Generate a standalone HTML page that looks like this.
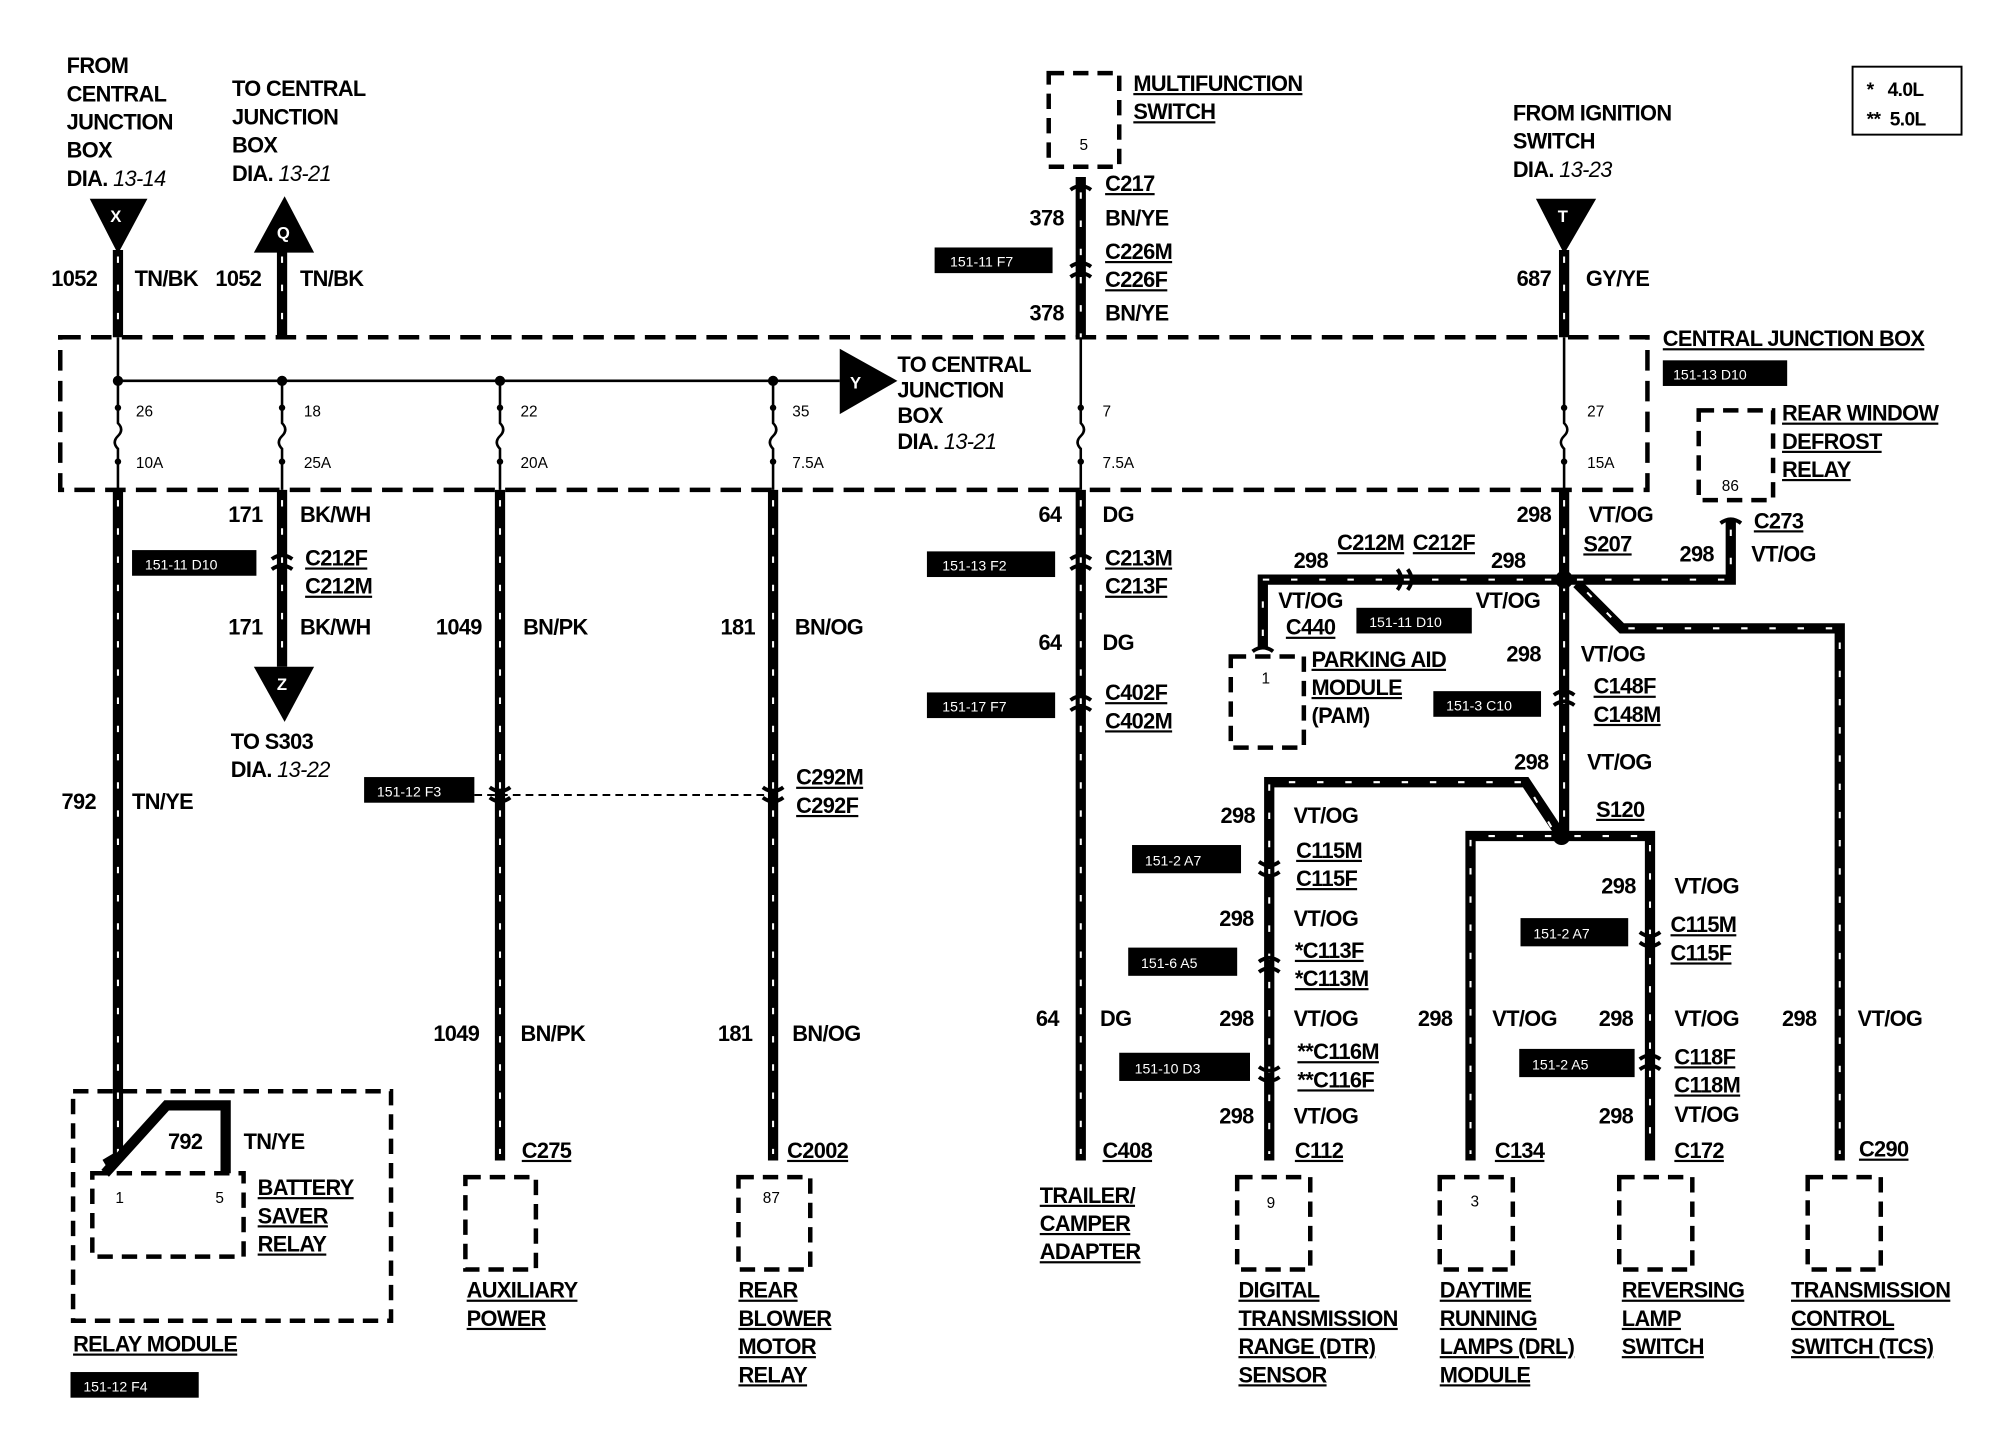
<!DOCTYPE html>
<html><head><meta charset="utf-8"><style>
html,body{margin:0;padding:0;background:#fff;}
svg{display:block;}
text{font-family:"Liberation Sans",Arial,sans-serif;font-weight:bold;font-size:17px;letter-spacing:-0.5px;fill:#000;}
.u{text-decoration:underline;}
.s{font-size:12px;font-weight:normal;letter-spacing:0;}
.t{font-size:11px;font-weight:normal;fill:#fff;letter-spacing:0;}
.i{font-style:italic;font-weight:normal;}
.w{stroke:#000;stroke-width:8;fill:none;stroke-linejoin:miter;}
.st{stroke:#fff;stroke-width:1.6;fill:none;stroke-dasharray:5 17;}
.th{stroke:#000;stroke-width:2;fill:none;}
.db{stroke:#000;stroke-width:3.5;fill:none;stroke-dasharray:16 8;}
</style></head><body>
<svg width="2000" height="1440" viewBox="0 0 1560 1123" preserveAspectRatio="none" xmlns="http://www.w3.org/2000/svg">
<rect width="1560" height="1123" fill="#fff"/>
<rect x="47" y="263" width="1238" height="119" class="db"/>
<line x1="92" y1="297" x2="655" y2="297" class="th"/>
<polygon points="655,272 655,323 700,297" fill="#000"/>
<text x="663" y="303" style="fill:#fff;font-size:13px">Y</text>
<g fill="#000"><circle cx="92" cy="297" r="4"/><circle cx="220" cy="297" r="4"/><circle cx="390" cy="297" r="4"/><circle cx="603" cy="297" r="4"/></g>
<g class="th">
<path d="M92 263V330 q5 5 0 10 q-5 5 0 10 V382"/>
<path d="M220 297V330 q5 5 0 10 q-5 5 0 10 V382"/>
<path d="M390 297V330 q5 5 0 10 q-5 5 0 10 V382"/>
<path d="M603 297V330 q5 5 0 10 q-5 5 0 10 V382"/>
<path d="M843 263V330 q5 5 0 10 q-5 5 0 10 V382"/>
<path d="M1220 263V330 q5 5 0 10 q-5 5 0 10 V382"/>
</g>
<g fill="#000"><circle cx="92" cy="318" r="2.5"/><circle cx="220" cy="318" r="2.5"/><circle cx="390" cy="318" r="2.5"/><circle cx="603" cy="318" r="2.5"/><circle cx="843" cy="318" r="2.5"/><circle cx="1220" cy="318" r="2.5"/>
<circle cx="92" cy="360" r="2.5"/><circle cx="220" cy="360" r="2.5"/><circle cx="390" cy="360" r="2.5"/><circle cx="603" cy="360" r="2.5"/><circle cx="843" cy="360" r="2.5"/><circle cx="1220" cy="360" r="2.5"/></g>
<polygon points="70,155 115,155 92,198" fill="#000"/><text x="86" y="173" style="fill:#fff;font-size:13px">X</text>
<polygon points="198,197 245,197 222,153" fill="#000"/><text x="216" y="186" style="fill:#fff;font-size:13px">Q</text>
<polygon points="198,520 245,520 222,563" fill="#000"/><text x="216" y="538" style="fill:#fff;font-size:13px">Z</text>
<polygon points="1198,155 1245,155 1220,198" fill="#000"/><text x="1215" y="173" style="fill:#fff;font-size:13px">T</text>
<g class="w">
<path d="M92 195V263"/><path d="M220 195V263"/><path d="M843 138V263"/><path d="M1220 195V263"/>
<path d="M92 382V902 L82 908"/>
<path d="M220 382V520"/>
<path d="M390 382V905"/><path d="M603 382V905"/><path d="M843 382V905"/>
<path d="M1220 382V652"/>
<path d="M1220 452H985V505"/>
<path d="M1220 452H1350V405"/>
<path d="M1230 455L1265 490H1435V905"/>
<path d="M1218 652L1190 610H990V905"/>
<path d="M1218 652H1147V905"/>
<path d="M1218 652H1287V905"/>
</g>
<g class="st">
<path d="M92 200V263"/><path d="M220 200V263"/><path d="M843 150V263"/><path d="M1220 200V263"/>
<path d="M92 390V900"/><path d="M220 390V515"/><path d="M390 390V900"/><path d="M603 390V900"/><path d="M843 390V900"/>
<path d="M1220 390V645"/>
<path d="M1210 452H985V500"/><path d="M1230 452H1350V410"/>
<path d="M1238 462L1265 490H1435V900"/>
<path d="M1210 645L1190 610H990V900"/><path d="M1210 652H1147V900"/><path d="M1228 652H1287V900"/>
</g>
<path d="M82 915L130 862H176V915" class="w"/>
<g fill="#000"><circle cx="1220" cy="452" r="7"/><circle cx="1218" cy="652" r="7"/></g>
<g stroke="#000" stroke-width="3" fill="none">
<path d="M835 148q8-6 16 0"/><path d="M835 208q8-6 16 0M835 216q8 -6 16 0"/>
<path d="M212 436q8-6 16 0M212 444q8-6 16 0"/>
<path d="M835 436q8-6 16 0M835 444q8-6 16 0"/>
<path d="M835 546q8-6 16 0M835 554q8-6 16 0"/>
<path d="M382 614q8 6 16 0M382 622q8 6 16 0"/>
<path d="M595 614q8 6 16 0M595 622q8 6 16 0"/>
<path d="M1212 542q8-6 16 0M1212 550q8-6 16 0"/>
<path d="M982 672q8 6 16 0M982 680q8 6 16 0"/>
<path d="M982 750q8-6 16 0M982 758q8-6 16 0"/>
<path d="M982 832q8 6 16 0M982 840q8 6 16 0"/>
<path d="M1279 727q8 6 16 0M1279 735q8 6 16 0"/>
<path d="M1279 826q8-6 16 0M1279 834q8-6 16 0"/>
<path d="M1090 444q6 8 0 16M1098 444q6 8 0 16"/>
<path d="M977 508q8-6 16 0"/><path d="M1342 408q8-6 16 0"/>
</g>
<line x1="370" y1="620" x2="603" y2="620" stroke="#000" stroke-width="1.5" stroke-dasharray="6 4"/>
<g class="db" style="stroke-width:3.5;stroke-dasharray:12 7">
<rect x="818" y="57" width="55" height="73"/>
<rect x="1325" y="320" width="58" height="70"/>
<rect x="960" y="512" width="57" height="71"/>
<rect x="57" y="851" width="248" height="179"/>
<rect x="72" y="915" width="118" height="65"/>
<rect x="363" y="918" width="55" height="72"/>
<rect x="576" y="918" width="56" height="72"/>
<rect x="965" y="918" width="57" height="72"/>
<rect x="1123" y="918" width="57" height="72"/>
<rect x="1263" y="918" width="57" height="72"/>
<rect x="1410" y="918" width="57" height="72"/>
</g>
<rect x="1445" y="52" width="85" height="53" fill="none" stroke="#000" stroke-width="1.5"/>
<text x="1456" y="75" style="font-size:15px">*&#160;&#160;&#160;4.0L</text>
<text x="1456" y="98" style="font-size:15px">**&#160;&#160;5.0L</text>
<g fill="#000">
<rect x="103" y="429" width="97" height="20"/><rect x="729" y="193" width="92" height="20"/><rect x="1297" y="281" width="97" height="20"/>
<rect x="723" y="430" width="100" height="20"/><rect x="1058" y="474" width="90" height="20"/><rect x="723" y="540" width="100" height="20"/>
<rect x="1118" y="539" width="84" height="20"/><rect x="284" y="606" width="86" height="20"/><rect x="883" y="659" width="85" height="22"/>
<rect x="1186" y="716" width="84" height="22"/><rect x="880" y="739" width="85" height="22"/><rect x="873" y="821" width="102" height="22"/>
<rect x="1185" y="818" width="90" height="22"/><rect x="55" y="1070" width="100" height="20"/>
</g>
<text class="t" x="113" y="444">151-11 D10</text><text class="t" x="741" y="208">151-11 F7</text><text class="t" x="1305" y="296">151-13 D10</text>
<text class="t" x="735" y="445">151-13 F2</text><text class="t" x="1068" y="489">151-11 D10</text><text class="t" x="735" y="555">151-17 F7</text>
<text class="t" x="1128" y="554">151-3 C10</text><text class="t" x="294" y="621">151-12 F3</text><text class="t" x="893" y="675">151-2 A7</text>
<text class="t" x="1196" y="732">151-2 A7</text><text class="t" x="890" y="755">151-6 A5</text><text class="t" x="885" y="837">151-10 D3</text>
<text class="t" x="1195" y="834">151-2 A5</text><text class="t" x="65" y="1085">151-12 F4</text>
<text x="52" y="57">FROM</text><text x="52" y="79">CENTRAL</text><text x="52" y="101">JUNCTION</text><text x="52" y="123">BOX</text><text x="52" y="145">DIA. <tspan class="i">13-14</tspan></text>
<text x="181" y="75">TO CENTRAL</text><text x="181" y="97">JUNCTION</text><text x="181" y="119">BOX</text><text x="181" y="141">DIA. <tspan class="i">13-21</tspan></text>
<text x="40" y="223">1052</text><text x="105" y="223">TN/BK</text><text x="168" y="223">1052</text><text x="234" y="223">TN/BK</text>
<text class="s" x="106" y="325">26</text><text class="s" x="106" y="365">10A</text><text class="s" x="237" y="325">18</text><text class="s" x="237" y="365">25A</text>
<text class="s" x="406" y="325">22</text><text class="s" x="406" y="365">20A</text><text class="s" x="618" y="325">35</text><text class="s" x="618" y="365">7.5A</text>
<text class="s" x="860" y="325">7</text><text class="s" x="860" y="365">7.5A</text><text class="s" x="1238" y="325">27</text><text class="s" x="1238" y="365">15A</text>
<text x="178" y="407">171</text><text x="234" y="407">BK/WH</text><text class="u" x="238" y="441">C212F</text><text class="u" x="238" y="463">C212M</text>
<text x="178" y="495">171</text><text x="234" y="495">BK/WH</text>
<text x="180" y="584">TO S303</text><text x="180" y="606">DIA. <tspan class="i">13-22</tspan></text>
<text x="48" y="631">792</text><text x="103" y="631">TN/YE</text>
<text x="340" y="495">1049</text><text x="408" y="495">BN/PK</text><text x="562" y="495">181</text><text x="620" y="495">BN/OG</text>
<text class="u" x="621" y="612">C292M</text><text class="u" x="621" y="634">C292F</text>
<text x="338" y="812">1049</text><text x="406" y="812">BN/PK</text><text x="560" y="812">181</text><text x="618" y="812">BN/OG</text>
<text class="u" x="407" y="903">C275</text><text class="u" x="614" y="903">C2002</text>
<text x="131" y="896">792</text><text x="190" y="896">TN/YE</text>
<text class="s" x="90" y="938">1</text><text class="s" x="168" y="938">5</text>
<text class="u" x="201" y="932">BATTERY</text><text class="u" x="201" y="954">SAVER</text><text class="u" x="201" y="976">RELAY</text>
<text class="u" x="57" y="1054">RELAY MODULE</text>
<text class="u" x="364" y="1012">AUXILIARY</text><text class="u" x="364" y="1034">POWER</text>
<text class="u" x="576" y="1012">REAR</text><text class="u" x="576" y="1034">BLOWER</text><text class="u" x="576" y="1056">MOTOR</text><text class="u" x="576" y="1078">RELAY</text>
<text class="s" x="595" y="938">87</text>
<text class="u" x="884" y="71">MULTIFUNCTION</text><text class="u" x="884" y="93">SWITCH</text><text class="s" x="842" y="117">5</text>
<text class="u" x="862" y="149">C217</text><text x="803" y="176">378</text><text x="862" y="176">BN/YE</text>
<text class="u" x="862" y="202">C226M</text><text class="u" x="862" y="224">C226F</text><text x="803" y="250">378</text><text x="862" y="250">BN/YE</text>
<text x="700" y="290">TO CENTRAL</text><text x="700" y="310">JUNCTION</text><text x="700" y="330">BOX</text><text x="700" y="350">DIA. <tspan class="i">13-21</tspan></text>
<text x="810" y="407">64</text><text x="860" y="407">DG</text><text class="u" x="862" y="441">C213M</text><text class="u" x="862" y="463">C213F</text>
<text x="810" y="507">64</text><text x="860" y="507">DG</text><text class="u" x="862" y="546">C402F</text><text class="u" x="862" y="568">C402M</text>
<text x="808" y="800">64</text><text x="858" y="800">DG</text><text class="u" x="860" y="903">C408</text>
<text class="u" x="811" y="938">TRAILER/</text><text class="u" x="811" y="960">CAMPER</text><text class="u" x="811" y="982">ADAPTER</text>
<text x="1180" y="94">FROM IGNITION</text><text x="1180" y="116">SWITCH</text><text x="1180" y="138">DIA. <tspan class="i">13-23</tspan></text>
<text x="1183" y="223">687</text><text x="1237" y="223">GY/YE</text>
<text class="u" x="1297" y="270">CENTRAL JUNCTION BOX</text>
<text class="u" x="1390" y="328">REAR WINDOW</text><text class="u" x="1390" y="350">DEFROST</text><text class="u" x="1390" y="372">RELAY</text><text class="s" x="1343" y="383">86</text>
<text x="1183" y="407">298</text><text x="1239" y="407">VT/OG</text><text class="u" x="1235" y="430">S207</text>
<text class="u" x="1368" y="412">C273</text><text x="1310" y="438">298</text><text x="1366" y="438">VT/OG</text>
<text class="u" x="1043" y="429">C212M</text><text class="u" x="1102" y="429">C212F</text><text x="1009" y="443">298</text><text x="1163" y="443">298</text>
<text x="997" y="474">VT/OG</text><text x="1151" y="474">VT/OG</text><text class="u" x="1003" y="495">C440</text>
<text class="u" x="1023" y="520">PARKING AID</text><text class="u" x="1023" y="542">MODULE</text><text x="1023" y="564">(PAM)</text><text class="s" x="984" y="533">1</text>
<text x="1175" y="516">298</text><text x="1233" y="516">VT/OG</text><text class="u" x="1243" y="541">C148F</text><text class="u" x="1243" y="563">C148M</text>
<text x="1181" y="600">298</text><text x="1238" y="600">VT/OG</text><text class="u" x="1245" y="637">S120</text>
<text x="952" y="642">298</text><text x="1009" y="642">VT/OG</text><text class="u" x="1011" y="669">C115M</text><text class="u" x="1011" y="691">C115F</text>
<text x="1249" y="697">298</text><text x="1306" y="697">VT/OG</text><text class="u" x="1303" y="727">C115M</text><text class="u" x="1303" y="749">C115F</text>
<text x="951" y="722">298</text><text x="1009" y="722">VT/OG</text><text class="u" x="1010" y="747">*C113F</text><text class="u" x="1010" y="769">*C113M</text>
<text x="951" y="800">298</text><text x="1009" y="800">VT/OG</text><text x="1106" y="800">298</text><text x="1164" y="800">VT/OG</text>
<text x="1247" y="800">298</text><text x="1306" y="800">VT/OG</text><text x="1390" y="800">298</text><text x="1449" y="800">VT/OG</text>
<text class="u" x="1012" y="826">**C116M</text><text class="u" x="1012" y="848">**C116F</text>
<text class="u" x="1306" y="830">C118F</text><text class="u" x="1306" y="852">C118M</text><text x="1306" y="875">VT/OG</text>
<text x="951" y="876">298</text><text x="1009" y="876">VT/OG</text><text x="1247" y="876">298</text>
<text class="u" x="1010" y="903">C112</text><text class="u" x="1166" y="903">C134</text><text class="u" x="1306" y="903">C172</text><text class="u" x="1450" y="902">C290</text>
<text class="s" x="988" y="942">9</text><text class="s" x="1147" y="941">3</text>
<text class="u" x="966" y="1012">DIGITAL</text><text class="u" x="966" y="1034">TRANSMISSION</text><text class="u" x="966" y="1056">RANGE (DTR)</text><text class="u" x="966" y="1078">SENSOR</text>
<text class="u" x="1123" y="1012">DAYTIME</text><text class="u" x="1123" y="1034">RUNNING</text><text class="u" x="1123" y="1056">LAMPS (DRL)</text><text class="u" x="1123" y="1078">MODULE</text>
<text class="u" x="1265" y="1012">REVERSING</text><text class="u" x="1265" y="1034">LAMP</text><text class="u" x="1265" y="1056">SWITCH</text>
<text class="u" x="1397" y="1012">TRANSMISSION</text><text class="u" x="1397" y="1034">CONTROL</text><text class="u" x="1397" y="1056">SWITCH (TCS)</text>
</svg>
</body></html>
